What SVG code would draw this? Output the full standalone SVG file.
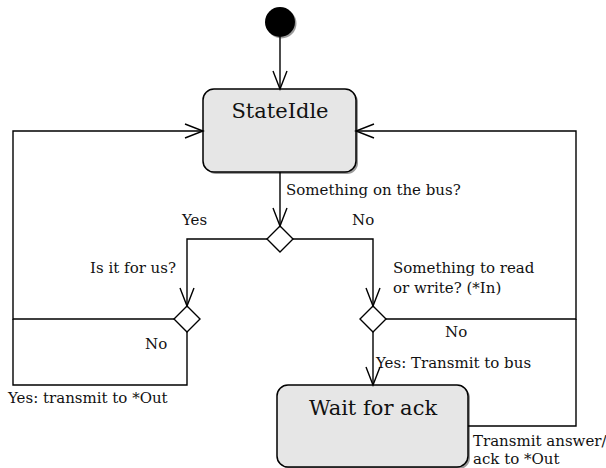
<svg xmlns="http://www.w3.org/2000/svg" width="606" height="468" viewBox="0 0 606 468">
  <style>
    .wire { fill: none; stroke: #000; stroke-width: 1.4; }
    .state { fill: #e6e6e6; stroke: #000; stroke-width: 1.5; }
    .shadow { fill: #9a9a9a; }
    .choice { fill: #fff; stroke: #000; stroke-width: 1.4; }
    .title { font-family: 'DejaVu Serif', 'Liberation Serif', serif; font-size: 21px; fill: #111; }
    .lbl { font-family: 'DejaVu Serif', 'Liberation Serif', serif; font-size: 15px; fill: #111; }
  </style>
  <defs>
    <marker id="open" markerUnits="userSpaceOnUse" markerWidth="24" markerHeight="20" viewBox="-20 -10 24 20" refX="0" refY="0" orient="auto" overflow="visible">
      <path d="M-18,-7 L0,0 L-18,7" fill="none" stroke="#000" stroke-width="1.4"/>
    </marker>
  </defs>

  <!-- initial pseudo-state -->
  <g id="start">
    <circle cx="281.5" cy="23.5" r="15" class="shadow"/>
    <circle cx="280" cy="22" r="15" fill="#000"/>
  </g>

  <!-- states -->
  <g id="StateIdle">
    <rect x="205" y="91" width="153" height="83" rx="11" class="shadow"/>
    <rect x="203" y="89" width="153" height="83" rx="11" class="state"/>
    <text x="280" y="118" text-anchor="middle" class="title">StateIdle</text>
  </g>
  <g id="WaitForAck">
    <rect x="279" y="387" width="191" height="82" rx="11" class="shadow"/>
    <rect x="277" y="385" width="191" height="82" rx="11" class="state"/>
    <text x="373" y="415" text-anchor="middle" class="title">Wait for ack</text>
  </g>

  <!-- choice points -->
  <g id="choiceBus">
    <path d="M280,226 L293,239 L280,252 L267,239 Z" class="choice"/>
  </g>
  <g id="choiceForUs">
    <path d="M187,306 L200,319 L187,332 L174,319 Z" class="choice"/>
  </g>
  <g id="choiceReadWrite">
    <path d="M373,306 L386,319 L373,332 L360,319 Z" class="choice"/>
  </g>

  <!-- transitions -->
  <g id="connectors">
    <path d="M280,37 V89" class="wire" marker-end="url(#open)"/>
    <path d="M280,172 V226" class="wire" marker-end="url(#open)"/>
    <path d="M267,239 H187 V306" class="wire" marker-end="url(#open)"/>
    <path d="M293,239 H373 V306" class="wire" marker-end="url(#open)"/>
    <path d="M174,319 H13 V131 H203" class="wire" marker-end="url(#open)"/>
    <path d="M187,332 V385 H13 V319" class="wire"/>
    <path d="M373,332 V385" class="wire" marker-end="url(#open)"/>
    <path d="M386,319 H576 V131 H356" class="wire" marker-end="url(#open)"/>
    <path d="M468,426 H576 V319" class="wire"/>
  </g>

  <!-- transition labels -->
  <g id="labels">
    <text x="286" y="195" class="lbl">Something on the bus?</text>
    <text x="182" y="225" class="lbl">Yes</text>
    <text x="352" y="225" class="lbl">No</text>
    <text x="176" y="273" text-anchor="end" class="lbl">Is it for us?</text>
    <text x="393" y="273" class="lbl">Something to read</text>
    <text x="393" y="293" class="lbl">or write? (*In)</text>
    <text x="145" y="349" class="lbl">No</text>
    <text x="445" y="337" class="lbl">No</text>
    <text x="376" y="368" class="lbl">Yes: Transmit to bus</text>
    <text x="8" y="403" class="lbl">Yes: transmit to *Out</text>
    <text x="473" y="446" class="lbl">Transmit answer/</text>
    <text x="473" y="464" class="lbl">ack to *Out</text>
  </g>
</svg>
